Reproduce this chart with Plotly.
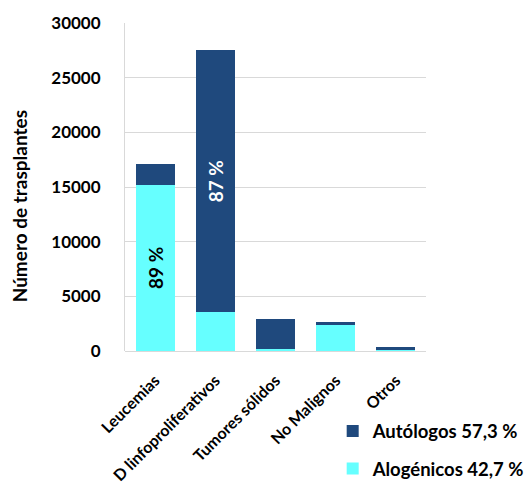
import plotly.graph_objects as go

categories = ["Leucemias", "D linfoproliferativos", "Tumores sólidos", "No Malignos", "Otros"]
alogenicos = [15200, 3550, 150, 2350, 60]
autologos = [1900, 23950, 2750, 270, 310]
alo_text = ["89 %", "", "", "", ""]
auto_text = ["", "87 %", "", "", ""]
alo_name = "Alogénicos 42,7 %"
auto_name = "Autólogos 57,3 %"
y_ticks = [0, 5000, 10000, 15000, 20000, 25000, 30000]
y_title = "Número de trasplantes"

FONT = "Lato"
DARK = "#1F497D"
CYAN = "#66FFFF"

fig = go.Figure()
fig.add_trace(go.Bar(
    x=categories, y=alogenicos, name=alo_name, marker_color=CYAN,
    marker_line_width=0,
    text=alo_text, textposition="inside", insidetextanchor="middle",
    textangle=-90, constraintext="none",
    textfont=dict(family=FONT, size=19, color="black", weight="bold"),
    legend="legend2",
))
fig.add_trace(go.Bar(
    x=categories, y=autologos, name=auto_name, marker_color=DARK,
    marker_line_width=0,
    text=auto_text, textposition="inside", insidetextanchor="middle",
    textangle=-90, constraintext="none",
    textfont=dict(family=FONT, size=19, color="white", weight="bold"),
    legend="legend",
))

fig.update_layout(
    width=527, height=487,
    margin=dict(l=125, r=101, t=23, b=136, autoexpand=False),
    barmode="stack", bargap=0.35,
    plot_bgcolor="white", paper_bgcolor="white",
    font=dict(family=FONT, size=15, color="black", weight="bold"),
    showlegend=True,
    legend=dict(x=0.69, y=-0.245, xanchor="left", yanchor="middle",
                font=dict(family=FONT, size=18.5, color="black", weight="bold"),
                bgcolor="rgba(0,0,0,0)", itemwidth=30),
    legend2=dict(x=0.69, y=-0.36, xanchor="left", yanchor="middle",
                 font=dict(family=FONT, size=18.5, color="black", weight="bold"),
                 bgcolor="rgba(0,0,0,0)", itemwidth=30),
)
fig.update_xaxes(
    tickangle=-45, showline=False, showgrid=False,
    ticklabelstandoff=16,
    tickfont=dict(family=FONT, size=16, color="black", weight="bold"),
)
fig.update_yaxes(
    range=[0, 30000], tickvals=y_ticks, ticktext=[str(v) for v in y_ticks],
    showgrid=True, gridcolor="#D9D9D9", gridwidth=1,
    zeroline=True, zerolinecolor="#D9D9D9", zerolinewidth=1,
    showline=True, linecolor="#D9D9D9", linewidth=1,
    ticklabelstandoff=20,
    tickfont=dict(family=FONT, size=17, color="black", weight="bold"),
)
fig.add_annotation(
    text=y_title, textangle=-90, xref="paper", yref="paper",
    x=-0.35, y=0.44, xanchor="center", yanchor="middle", showarrow=False,
    font=dict(family=FONT, size=19, color="black", weight="bold"),
)

fig.write_html("out.html")
